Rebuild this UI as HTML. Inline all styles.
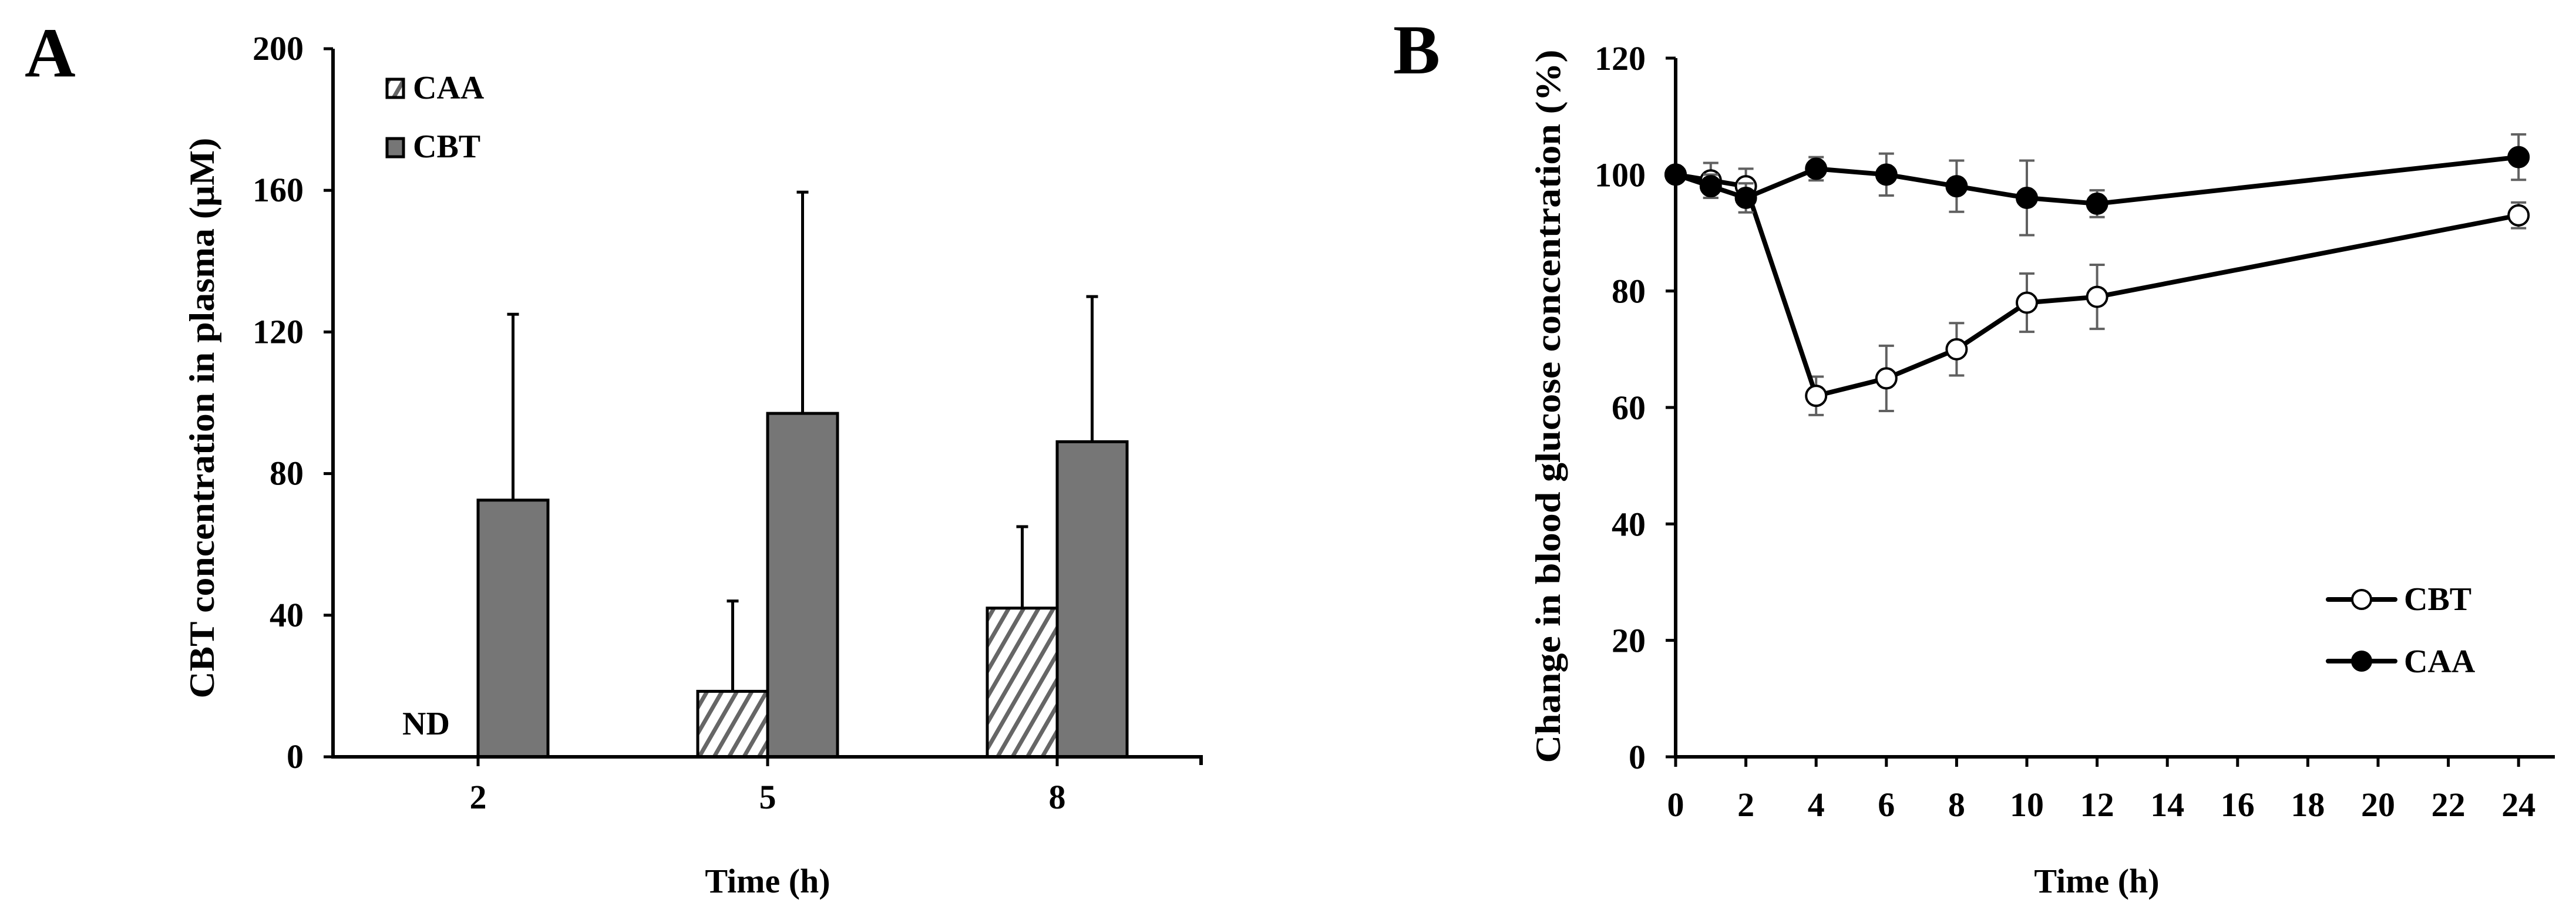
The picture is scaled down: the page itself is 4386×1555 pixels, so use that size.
<!DOCTYPE html>
<html><head><meta charset="utf-8"><style>
html,body{margin:0;padding:0;background:#fff}
svg{display:block}
text{font-family:"Liberation Serif",serif;font-weight:bold;fill:#000}
</style></head><body>
<svg id="fig" width="4386" height="1555" viewBox="0 0 4386 1555" xmlns="http://www.w3.org/2000/svg">
<defs>
<pattern id="hatch" patternUnits="userSpaceOnUse" width="22" height="22" patternTransform="rotate(30)">
<rect width="22" height="22" fill="#fff"/><rect x="0" y="0" width="7" height="22" fill="#666"/>
</pattern>
</defs>
<g id="panelA"></g>
<g id="panelB"></g>
</svg>
<script>
// ---- Panel A data ----
const aCategories = ["2","5","8"];
const aCAA = [null, 18.5, 42];
const aCAAerr = [null, 25.5, 23];
const aCBT = [72.5, 97, 89];
const aCBTerr = [52.5, 62.5, 41];
const aYTicks = [0,40,80,120,160,200];
// ---- Panel B data ----
const bTimes = [0,1,2,4,6,8,10,12,24];
const bCBT = [100,99,98,62,65,70,78,79,93];
const bCBTerr = [0,3,3,3.3,5.6,4.5,5,5.5,2.2];
const bCAA = [100,98,96,101,100,98,96,95,103];
const bCAAerr = [0,2,2.5,2,3.6,4.4,6.4,2.3,3.9];
const bXTicks = [0,2,4,6,8,10,12,14,16,18,20,22,24];
const bYTicks = [0,20,40,60,80,100,120];

const NS="http://www.w3.org/2000/svg";
function mk(parent,tag,attrs,txt){const e=document.createElementNS(NS,tag);for(const k in attrs)e.setAttribute(k,attrs[k]);if(txt!==undefined)e.textContent=txt;parent.appendChild(e);return e;}

// ===== Panel A =====
const A=document.getElementById('panelA');
const aX0=567, aXEnd=2045, aY0=1289, aYTop=83;
const aY=v=>aY0-(v/200)*(aY0-aYTop);
const aCat=i=>814+i*493;
const bw=119;
let t;
t=mk(A,'text',{x:42,y:130,'font-size':120});
t.textContent='A';
aYTicks.forEach(v=>{
  const l=mk(A,'line',{x1:aX0-16,x2:aX0,y1:aY(v),y2:aY(v),stroke:'#000','stroke-width':5});
  
  const tx=mk(A,'text',{x:517,y:aY(v)+19,'font-size':58,'text-anchor':'end'},String(v));
  
});
aCategories.forEach((c,i)=>{
  const cx=aCat(i);
  if(aCAA[i]!==null){
    const r=mk(A,'rect',{x:cx-bw,y:aY(aCAA[i]),width:bw,height:aY0-aY(aCAA[i]),fill:'url(#hatch)',stroke:'#000','stroke-width':5});
    
    const ex=cx-bw/2, top=aY(aCAA[i]+aCAAerr[i]);
    const e=mk(A,'path',{d:`M${ex},${aY(aCAA[i])}V${top}M${ex-10},${top}H${ex+10}`,stroke:'#000','stroke-width':5,fill:'none'});
    
  }
  const r2=mk(A,'rect',{x:cx,y:aY(aCBT[i]),width:bw,height:aY0-aY(aCBT[i]),fill:'#767676',stroke:'#000','stroke-width':5});
  
  const ex=cx+bw/2, top=aY(aCBT[i]+aCBTerr[i]);
  const e2=mk(A,'path',{d:`M${ex},${aY(aCBT[i])}V${top}M${ex-10},${top}H${ex+10}`,stroke:'#000','stroke-width':5,fill:'none'});
  
  const tk=mk(A,'line',{x1:cx,x2:cx,y1:aY0,y2:aY0+16,stroke:'#000','stroke-width':5});
  
  const lb=mk(A,'text',{x:cx,y:1377,'font-size':58,'text-anchor':'middle'},c);
  
});
const ax=mk(A,'path',{d:`M${aX0},${aYTop}V${aY0}H${aXEnd}V${aY0+14}`,stroke:'#000','stroke-width':6,fill:'none'});

t=mk(A,'text',{x:685,y:1251,'font-size':56},'ND');

t=mk(A,'text',{x:1307,y:1520,'font-size':58,'text-anchor':'middle'},'Time (h)');

t=mk(A,'text',{x:0,y:0,'font-size':60,'text-anchor':'middle',transform:'translate(364,712) rotate(-90)',textLength:955,lengthAdjust:'spacingAndGlyphs'},'CBT concentration in plasma (\u03BCM)');

let s=mk(A,'rect',{x:659,y:135,width:28,height:31,fill:'url(#hatch)',stroke:'#000','stroke-width':5});

t=mk(A,'text',{x:703,y:168,'font-size':56},'CAA');

s=mk(A,'rect',{x:659,y:236,width:28,height:31,fill:'#767676',stroke:'#000','stroke-width':5});

t=mk(A,'text',{x:703,y:268,'font-size':56},'CBT');


// ===== Panel B =====
const B=document.getElementById('panelB');
const bX0=2853, bXEnd=4350, bY0=1289, bYTop=99;
const bx=v=>bX0+v*59.8;
const by=v=>bY0-(v/120)*(bY0-bYTop);
t=mk(B,'text',{x:2372,y:125,'font-size':120},'B');

bYTicks.forEach(v=>{
  const l=mk(B,'line',{x1:bX0-17,x2:bX0,y1:by(v),y2:by(v),stroke:'#000','stroke-width':5});
  
  const tx=mk(B,'text',{x:2802,y:by(v)+20,'font-size':58,'text-anchor':'end'},String(v));
  
});
bXTicks.forEach(v=>{
  const l=mk(B,'line',{x1:bx(v),x2:bx(v),y1:bY0,y2:bY0+17,stroke:'#000','stroke-width':5});
  
  const tx=mk(B,'text',{x:bx(v),y:1390,'font-size':58,'text-anchor':'middle'},String(v));
  
});
const bax=mk(B,'path',{d:`M${bX0},${bYTop}V${bY0}H${bXEnd}`,stroke:'#000','stroke-width':6,fill:'none'});

function series(vals,errs,fill,name){
  errs.forEach((e,i)=>{
    if(!e)return;
    const x=bx(bTimes[i]),y1=by(vals[i]+e),y2=by(vals[i]-e);
    const p=mk(B,'path',{d:`M${x},${y1}V${y2}M${x-13},${y1}H${x+13}M${x-13},${y2}H${x+13}`,stroke:'#606060','stroke-width':4,fill:'none'});
    
  });
  const pts=vals.map((v,i)=>bx(bTimes[i])+','+by(v)).join(' ');
  const pl=mk(B,'polyline',{points:pts,fill:'none',stroke:'#000','stroke-width':8,'stroke-linejoin':'round'});
  
  vals.forEach((v,i)=>{
    const c=mk(B,'circle',{cx:bx(bTimes[i]),cy:by(v),r:17,fill:fill,stroke:'#000','stroke-width':4});
    
  });
}
series(bCBT,bCBTerr,'#fff','cbt');
series(bCAA,bCAAerr,'#000','caa');
t=mk(B,'text',{x:3570,y:1520,'font-size':58,'text-anchor':'middle'},'Time (h)');

t=mk(B,'text',{x:0,y:0,'font-size':60,'text-anchor':'middle',transform:'translate(2656,692) rotate(-90)',textLength:1215,lengthAdjust:'spacingAndGlyphs'},'Change in blood glucose concentration (%)');

[['cbt','CBT','#fff',1021,1039],['caa','CAA','#000',1126,1145]].forEach(d=>{
  const l=mk(B,'line',{x1:3964,x2:4078,y1:d[3],y2:d[3],stroke:'#000','stroke-width':8,'stroke-linecap':'round'});
  
  const c=mk(B,'circle',{cx:4021,cy:d[3],r:16,fill:d[2],stroke:'#000','stroke-width':4});
  
  const tx=mk(B,'text',{x:4093,y:d[4],'font-size':56},d[1]);
  
});
</script>
</body></html>
